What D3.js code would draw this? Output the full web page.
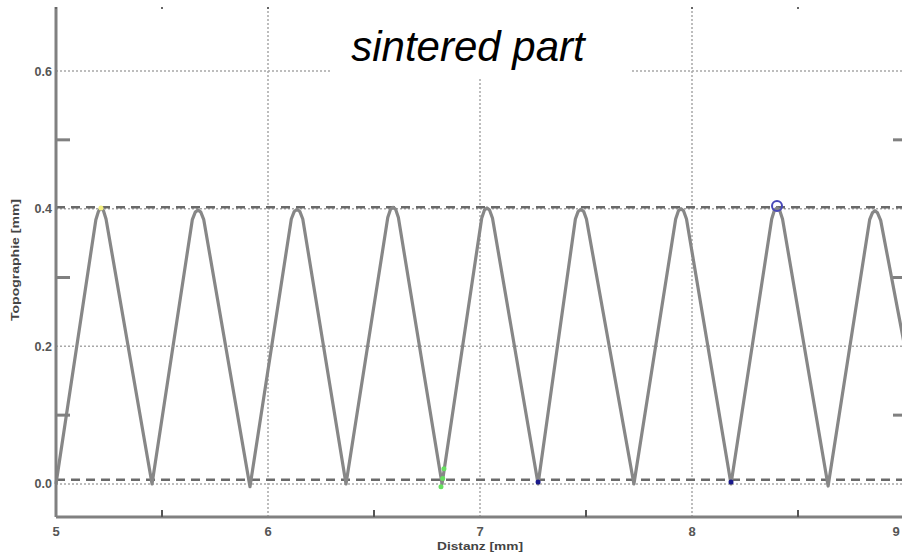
<!DOCTYPE html>
<html><head><meta charset="utf-8">
<script src="https://cdn.jsdelivr.net/npm/d3@7"></script>
<style>html,body{margin:0;padding:0;background:#fff;}svg{display:block;}</style>
</head><body>
<svg id="c" width="902" height="557"></svg>
<script>
// ---- data ----
const titleText = "sintered part";
const xLabel = "Distanz [mm]";
const yLabel = "Topographie [mm]";
const xTicks = [5, 6, 7, 8, 9];
const xTickLabels = ["5", "6", "7", "8", "9"];
const xMinorTicks = [5.5, 6.5, 7.5, 8.5];
const yTicks = [0.0, 0.2, 0.4, 0.6];
const yTickLabels = ["0.0", "0.2", "0.4", "0.6"];
const yMinorTicks = [0.1, 0.3, 0.5];
const xGrid = [6, 7, 8];
const yGrid = [0.0, 0.2, 0.4, 0.6];
const refLevels = [0.402, 0.006];
const profileX = [5.000, 5.188, 5.200, 5.212, 5.224, 5.236, 5.453, 5.643, 5.657, 5.670, 5.683, 5.697, 5.915,
  6.110, 6.124, 6.137, 6.150, 6.164, 6.368, 6.565, 6.578, 6.590, 6.602, 6.615, 6.821,
  7.008, 7.021, 7.033, 7.045, 7.059, 7.274, 7.450, 7.463, 7.476, 7.489, 7.502, 7.726,
  7.923, 7.936, 7.948, 7.960, 7.974, 8.184, 8.376, 8.389, 8.401, 8.413, 8.427, 8.642,
  8.838, 8.851, 8.863, 8.875, 8.890, 9.000];
const profileY = [0.000, 0.384, 0.396, 0.401, 0.397, 0.385, 0.000, 0.384, 0.395, 0.398, 0.395, 0.384, -0.004,
  0.385, 0.396, 0.399, 0.396, 0.385, 0.000, 0.387, 0.399, 0.402, 0.399, 0.387, 0.000,
  0.386, 0.398, 0.401, 0.398, 0.386, 0.000, 0.385, 0.396, 0.399, 0.396, 0.385, 0.000,
  0.385, 0.397, 0.400, 0.397, 0.385, 0.000, 0.385, 0.398, 0.401, 0.398, 0.385, -0.003,
  0.384, 0.394, 0.397, 0.394, 0.383, 0.205];
const markX = [5.212, 6.830, 6.824, 6.816, 7.274, 8.184];
const markY = [0.401, 0.022, 0.008, -0.004, 0.003, 0.003];
const markColor = ["#f4f080", "#66e060", "#66e060", "#66e060", "#1a1a8c", "#1a1a8c"];
const ringX = [8.401];
const ringY = [0.404];

// ---- layout ----
const svg = d3.select("#c");
const x = d3.scaleLinear().domain([5, 9]).range([56, 904]);
const y = d3.scaleLinear().domain([-0.048, 0.693]).range([517, 7]);
const [x0, x1] = x.range();
const [y0, y1] = y.range();
const FONT = "Liberation Sans, Arial, sans-serif";

// grid
svg.append("g").selectAll("line").data(yGrid).join("line")
  .attr("x1", x0).attr("x2", x1).attr("y1", d => y(d)).attr("y2", d => y(d))
  .attr("stroke", "#a8a8a8").attr("stroke-width", 1.5).attr("stroke-dasharray", "2,2");
svg.append("g").selectAll("line").data(xGrid).join("line")
  .attr("x1", d => x(d)).attr("x2", d => x(d)).attr("y1", y0).attr("y2", y1)
  .attr("stroke", "#a8a8a8").attr("stroke-width", 1.5).attr("stroke-dasharray", "2,2");

// reference levels
svg.append("g").selectAll("line").data(refLevels).join("line")
  .attr("x1", x0).attr("x2", x1).attr("y1", d => y(d)).attr("y2", d => y(d))
  .attr("stroke", "#6a6a6a").attr("stroke-width", 2.5).attr("stroke-dasharray", "9,6");

// profile
const line = d3.line().x(d => x(d[0])).y(d => y(d[1]));
svg.append("path").datum(profileX.map((v, i) => [v, profileY[i]]))
  .attr("d", line).attr("fill", "none").attr("stroke", "#878787")
  .attr("stroke-width", 3.2).attr("stroke-linejoin", "round");

// markers
svg.append("g").selectAll("circle").data(markX.map((v, i) => [v, markY[i], markColor[i]])).join("circle")
  .attr("cx", d => x(d[0])).attr("cy", d => y(d[1])).attr("r", 2.5)
  .attr("fill", d => d[2]);
svg.append("g").selectAll("circle").data(ringX.map((v, i) => [v, ringY[i]])).join("circle")
  .attr("cx", d => x(d[0])).attr("cy", d => y(d[1])).attr("r", 5)
  .attr("fill", "none").attr("stroke", "#4848b8").attr("stroke-width", 2);

// axes lines
svg.append("line").attr("x1", x0).attr("x2", x0).attr("y1", y0).attr("y2", y1)
  .attr("stroke", "#808080").attr("stroke-width", 3);
svg.append("line").attr("x1", x0).attr("x2", x1).attr("y1", y0).attr("y2", y0)
  .attr("stroke", "#808080").attr("stroke-width", 3);

// minor ticks
svg.append("g").selectAll("line").data(xMinorTicks).join("line")
  .attr("x1", d => x(d)).attr("x2", d => x(d)).attr("y1", y0 - 7).attr("y2", y0)
  .attr("stroke", "#555").attr("stroke-width", 2);
svg.append("g").selectAll("line").data(xMinorTicks.concat(xTicks)).join("line")
  .attr("x1", d => x(d)).attr("x2", d => x(d)).attr("y1", y1).attr("y2", y1 + 2)
  .attr("stroke", "#666").attr("stroke-width", 2);
svg.append("g").selectAll("line").data(yMinorTicks).join("line")
  .attr("x1", x0).attr("x2", x0 + 14).attr("y1", d => y(d)).attr("y2", d => y(d))
  .attr("stroke", "#808080").attr("stroke-width", 3);
svg.append("g").selectAll("line").data(yMinorTicks).join("line")
  .attr("x1", x1 - 11).attr("x2", x1).attr("y1", d => y(d)).attr("y2", d => y(d))
  .attr("stroke", "#808080").attr("stroke-width", 3);

// tick labels
svg.append("g").selectAll("text").data(xTicks).join("text")
  .attr("x", d => Math.min(x(d), 896)).attr("y", 536).attr("text-anchor", "middle")
  .attr("font-family", FONT).attr("font-size", 13).attr("font-weight", "bold")
  .attr("fill", "#555").text((d, i) => xTickLabels[i]);
svg.append("g").selectAll("text").data(yTicks).join("text")
  .attr("x", 52).attr("y", d => y(d) + 4.5).attr("text-anchor", "end")
  .attr("font-family", FONT).attr("font-size", 12.5).attr("font-weight", "bold")
  .attr("fill", "#555").text((d, i) => yTickLabels[i]);

// axis titles
svg.append("text").attr("x", 480).attr("y", 550).attr("text-anchor", "middle")
  .attr("font-family", FONT).attr("font-size", 11).attr("font-weight", "bold")
  .attr("fill", "#444").attr("textLength", 86).attr("lengthAdjust", "spacingAndGlyphs")
  .text(xLabel);
svg.append("text").attr("transform", "translate(19,260) rotate(-90)").attr("text-anchor", "middle")
  .attr("font-family", FONT).attr("font-size", 11).attr("font-weight", "bold")
  .attr("fill", "#444").attr("textLength", 122).attr("lengthAdjust", "spacingAndGlyphs")
  .text(yLabel);

// title with white box
svg.append("rect").attr("x", 330).attr("y", 0).attr("width", 302).attr("height", 79).attr("fill", "#fff");
svg.append("text").attr("x", 468).attr("y", 61).attr("text-anchor", "middle")
  .attr("font-family", FONT).attr("font-size", 42)
  .attr("font-style", "italic").attr("fill", "#000").text(titleText);
</script>
</body></html>
